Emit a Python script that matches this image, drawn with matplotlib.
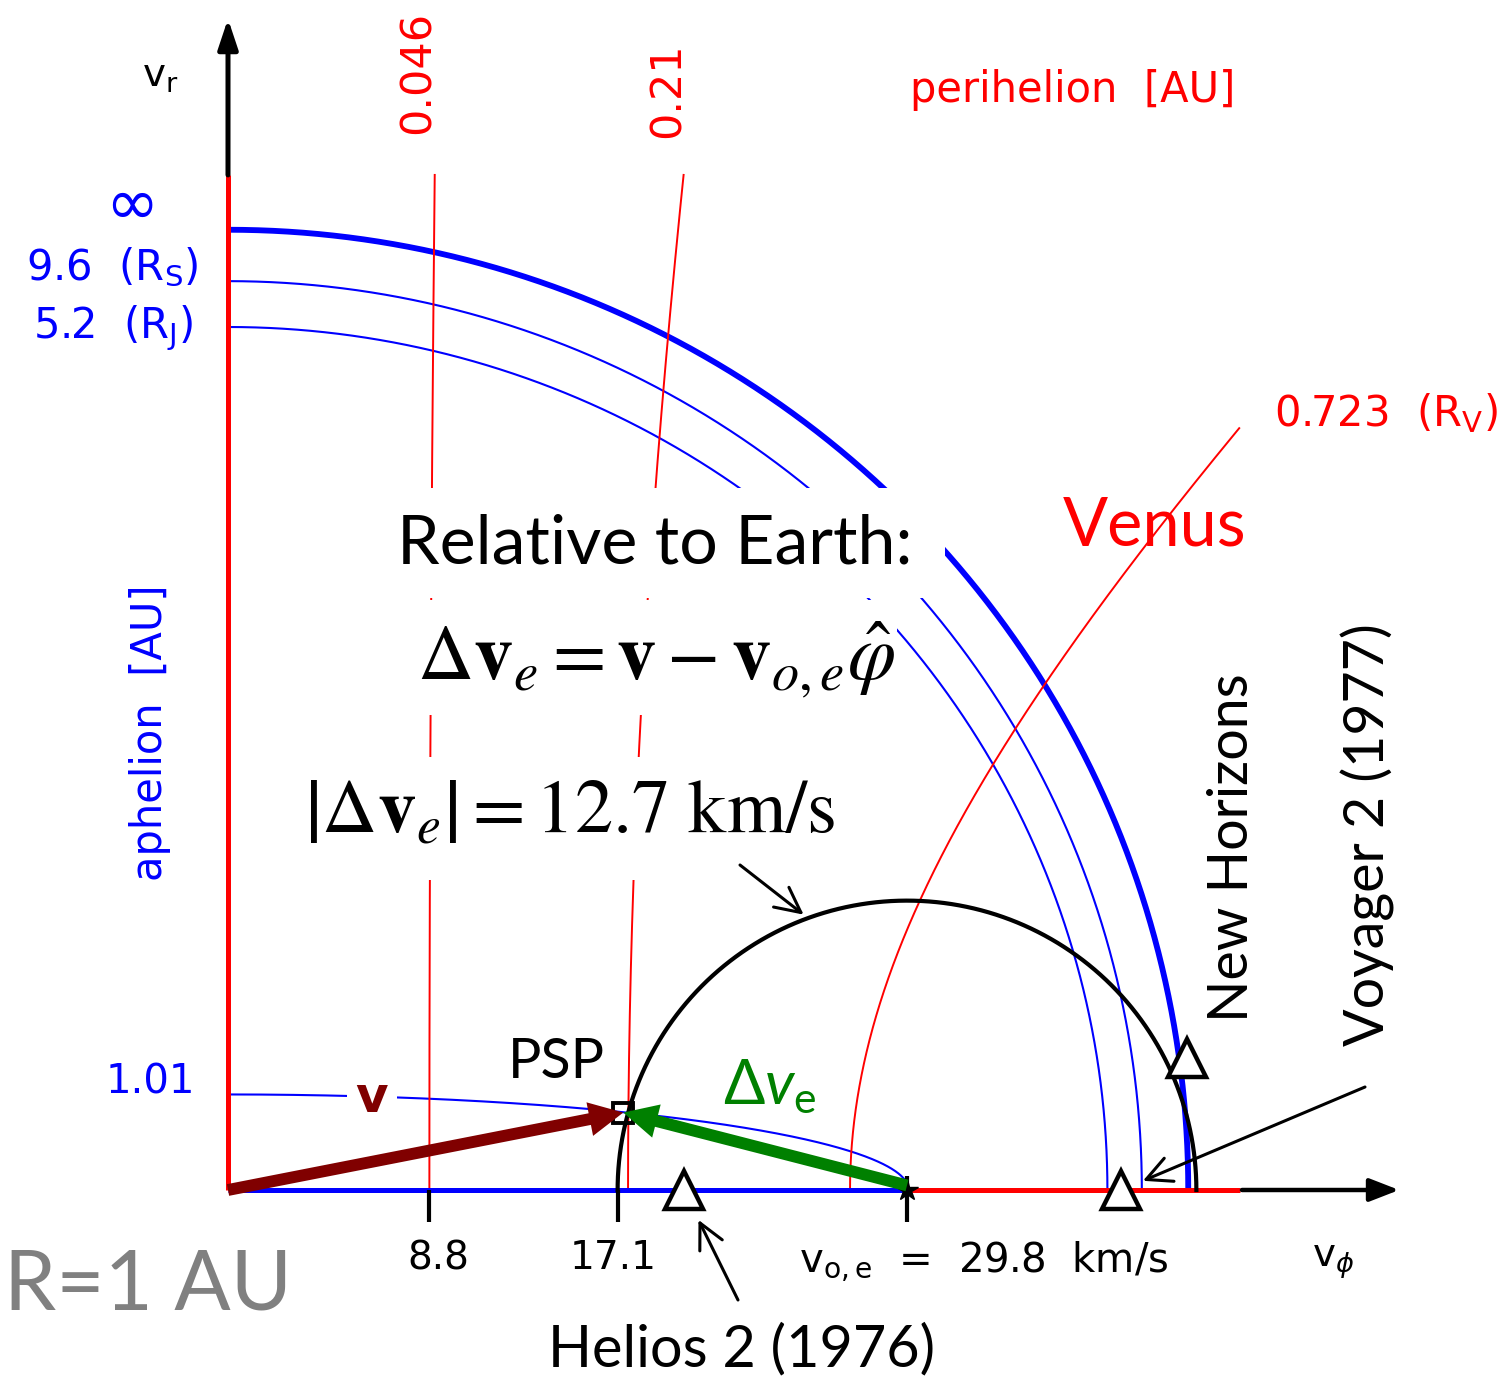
"""Velocity space at R = 1 AU: aphelion / perihelion contours and the
Earth-relative launch circle of Parker Solar Probe."""
import matplotlib.pyplot as plt
import numpy as np
from matplotlib.patches import FancyArrow, Rectangle

# --------------------------------------------------------------------------- #
# Data
# --------------------------------------------------------------------------- #
V_EARTH = 29.8                                   # km/s, Earth orbital speed
DV_EARTH = 12.7                                  # km/s, |dv_e|
aphelia = [1.01, 5.2, 9.6, np.inf]               # AU, blue contours
aphelion_labels = ["1.01", r"5.2  (R$_\mathrm{J}$)", r"9.6  (R$_\mathrm{S}$)", "∞"]
perihelia = [0.046, 0.21, 0.723]                 # AU, red contours
perihelion_labels = ["0.046", "0.21", r"0.723  (R$_\mathrm{V}$)"]
tick_values = [8.8, 17.1]
psp = (17.35, 3.4)                               # PSP (v_phi, v_r) km/s
craft_names = ["Helios 2 (1976)", "Voyager 2 (1977)", "New Horizons"]
craft_vphi = [20.0, 39.2, 42.1]
craft_vr = [0.0, 0.0, 5.8]

# --------------------------------------------------------------------------- #
# Layout: one axes over the whole canvas, equal km/s scale on both axes
# --------------------------------------------------------------------------- #
W, H = 1506, 1380
X0, Y0 = 228, 1190                 # pixel position of the origin
S = 679 / V_EARTH                  # pixels per km/s
FRAME_PHI, FRAME_R, ARROW_END = 44.4, 44.55, 51.4

BLUE, RED, GREEN, DARKRED, GREY = "#0000ff", "#ff0000", "#008000", "#800000", "#808080"
PIX = "DejaVu Sans"                # stand-in for the bitmap font
SANS = ["Lato", "DejaVu Sans"]     # stand-in for Calibri

plt.rcParams["mathtext.rm"] = "Lato"
plt.rcParams["mathtext.it"] = "Lato:italic"
plt.rcParams["mathtext.fallback"] = "stixsans"


def P(px, py):
    """Pixel position on the canvas -> (v_phi, v_r)."""
    return (px - X0) / S, (Y0 - py) / S


def apsis_vr(vphi, rho):
    """v_r at 1 AU giving an apsis distance rho for the tangential speed vphi."""
    u = vphi / V_EARTH
    ur2 = 2 - u**2 if np.isinf(rho) else u**2 * (1 / rho**2 - 1) + 2 - 2 / rho
    return V_EARTH * np.sqrt(np.clip(ur2, 0, None))


fig = plt.figure(figsize=(W / 100, H / 100), dpi=100)
ax = fig.add_axes([0, 0, 1, 1])
ax.set_xlim(P(0, 0)[0], P(W, 0)[0])
ax.set_ylim(P(0, H)[1], P(0, 0)[1])
ax.axis("off")

# aphelion contours (blue)
for rho in aphelia:
    vmax = V_EARTH * (np.sqrt(2) if np.isinf(rho) else np.sqrt(2 * rho / (rho + 1)))
    t = np.linspace(0, np.pi / 2, 1500)
    vphi = vmax * np.sin(t)
    ax.plot(vphi, apsis_vr(vphi, rho), color=BLUE,
            lw=4.2 if np.isinf(rho) else 1.5, zorder=2, solid_capstyle="butt")

# perihelion contours (red)
for rho in perihelia:
    vr = np.linspace(0, FRAME_R, 1500)
    vphi = V_EARTH * np.sqrt(((vr / V_EARTH)**2 + 2 / rho - 2) / (1 / rho**2 - 1))
    keep = vphi <= FRAME_PHI
    ax.plot(vphi[keep], vr[keep], color=RED, lw=1.4, zorder=2)

# frame: aphelion = 1 (blue), perihelion = 1 and 0 (red), black axis arrows
ax.plot([0, V_EARTH], [0, 0], color=BLUE, lw=3.6, zorder=2, solid_capstyle="butt")
ax.plot([V_EARTH, FRAME_PHI], [0, 0], color=RED, lw=3.6, zorder=2, solid_capstyle="butt")
ax.plot([0, 0], [0, FRAME_R], color=RED, lw=3.6, zorder=2, solid_capstyle="butt")
ax.annotate("", xy=(ARROW_END, 0), xytext=(FRAME_PHI + 0.1, 0),
            arrowprops=dict(arrowstyle="-|>,head_length=0.9,head_width=0.35",
                            lw=3.2, color="black", shrinkA=0, shrinkB=0,
                            mutation_scale=20))
ax.annotate("", xy=(0, ARROW_END), xytext=(0, FRAME_R),
            arrowprops=dict(arrowstyle="-|>,head_length=0.9,head_width=0.3",
                            lw=3.6, color="black", shrinkA=0, shrinkB=0,
                            mutation_scale=20))

# ticks
ax.vlines(tick_values, -1.4, 0, color="black", lw=3, zorder=3)
ax.vlines(V_EARTH, -1.4, 0.6, color="black", lw=3, zorder=3)
ax.plot(V_EARTH, 0, marker="*", ms=16, color="black", zorder=3)

# |dv_e| = 12.7 km/s circle around Earth's velocity
th = np.linspace(0, np.pi, 600)
ax.plot(V_EARTH + DV_EARTH * np.cos(th), DV_EARTH * np.sin(th),
        color="black", lw=3, zorder=2)

# white boxes behind the pasted equations
for x0, y0, x1, y1 in [(390, 488, 945, 598), (400, 600, 897, 715), (300, 757, 835, 880)]:
    a, b = P(x0, y1)
    c, d = P(x1, y0)
    ax.add_patch(Rectangle((a, b), c - a, d - b, facecolor="white",
                           edgecolor="none", zorder=3))

# spacecraft
ax.plot(craft_vphi, craft_vr, "^", ms=28, mfc="white", mec="black", mew=3.2, zorder=4)
ax.plot(*psp, "s", ms=15, mfc="none", mec="black", mew=2.8, zorder=4)

# velocity vectors
for (x0, y0), col in [((0, 0), DARKRED), ((V_EARTH, 0.2), GREEN)]:
    ax.add_patch(FancyArrow(x0, y0, psp[0] - x0, psp[1] - y0, width=0.52,
                            head_width=1.5, head_length=1.5,
                            length_includes_head=True, color=col, lw=0, zorder=5))

# pointer arrows
ptr = dict(arrowstyle="->,head_length=0.9,head_width=0.45", lw=2.2,
           color="black", mutation_scale=20, shrinkA=0)
ang = np.deg2rad(110)
ax.annotate("", xy=(V_EARTH + DV_EARTH * np.cos(ang), DV_EARTH * np.sin(ang)),
            xytext=P(740, 865), arrowprops=dict(ptr, shrinkB=4))
ax.annotate("", xy=(craft_vphi[0], craft_vr[0]), xytext=P(738, 1300),
            arrowprops=dict(ptr, shrinkB=24))
ax.annotate("", xy=(craft_vphi[1], craft_vr[1]), xytext=P(1365, 1087),
            arrowprops=dict(ptr, shrinkB=17))

# --------------------------------------------------------------------------- #
# Labels
# --------------------------------------------------------------------------- #
def label(px, py, s, **kw):
    kw.setdefault("family", PIX)
    kw.setdefault("math_fontfamily", "dejavusans")
    ax.text(*P(px, py), s, ha=kw.pop("ha", "center"), va=kw.pop("va", "center"),
            zorder=6, **kw)


label(160, 76, r"v$_\mathrm{r}$", size=28)
label(418, 72, perihelion_labels[0], size=31, color=RED, rotation=90)
label(668, 90, perihelion_labels[1], size=31, color=RED, rotation=90)
label(1386, 413, perihelion_labels[2], size=30, color=RED)
label(1073, 90, "perihelion  [AU]", size=30, color=RED)
label(132, 206, aphelion_labels[3], size=46, color=BLUE)
label(112, 268, aphelion_labels[2], size=30, color=BLUE)
label(113, 328, aphelion_labels[1], size=30, color=BLUE)
label(150, 1082, aphelion_labels[0], size=29, color=BLUE)
label(150, 733, "aphelion  [AU]", size=30, color=BLUE, rotation=90)
label(372, 1098, "v", size=36, color=DARKRED, weight="bold",
      bbox=dict(facecolor="white", edgecolor="none", pad=6))
label(438, 1258, "8.8", size=28)
label(613, 1258, "17.1", size=28)
label(984, 1262, r"v$_\mathrm{o,e}$  =  29.8  km/s", size=29)
label(1333, 1262, r"v$_\phi$", size=28)

label(148, 1286, "R=1 AU", size=60, color=GREY, family=SANS)
label(742, 1350, craft_names[0], size=41.5, family=SANS)
label(1368, 835, craft_names[1], size=40, family=SANS, rotation=90)
label(1233, 848, craft_names[2], size=40, family=SANS, rotation=90)
label(556, 1063, "PSP", size=40, family=SANS)
label(1155, 527, "Venus", size=48, color=RED, family=SANS)
label(770, 1088, r"$\mathit{\Delta v}_{\mathrm{e}}$", size=44, color=GREEN,
      math_fontfamily="custom")
label(655, 545, "Relative to Earth:", size=49, family=SANS)
label(656, 660, r"$\Delta\mathbf{v}_{e} = \mathbf{v} - \mathbf{v}_{o,e}\hat{\varphi}$",
      size=56, math_fontfamily="stix")
label(570, 812, r"$\left|\Delta\mathbf{v}_{e}\right| = 12.7\ \mathrm{km/s}$",
      size=55, math_fontfamily="stix")

fig.savefig("out.png", dpi=100)
